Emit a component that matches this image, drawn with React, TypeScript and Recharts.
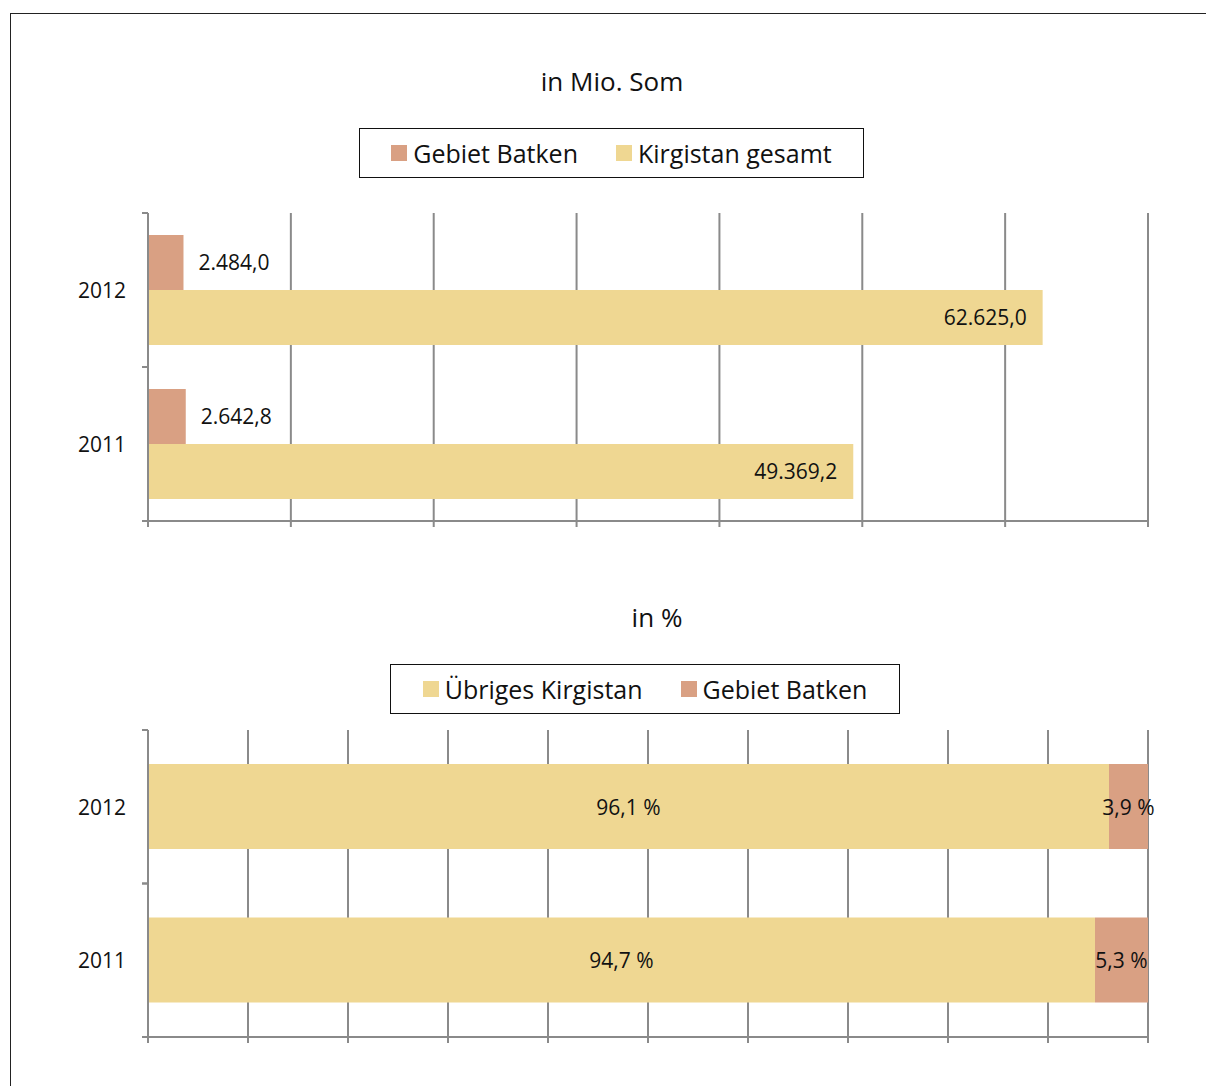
import React from "react";
import { BarChart, Bar, XAxis, YAxis, CartesianGrid, LabelList } from "recharts";

const years = ["2012", "2011"];
const batkenMio = [2484.0, 2642.8];
const kirgistanMio = [62625.0, 49369.2];
const uebrigesPct = [96.1, 94.7];
const batkenPct = [3.9, 5.3];
const mioTicks = [0, 10000, 20000, 30000, 40000, 50000, 60000, 70000];
const pctTicks = [0, 10, 20, 30, 40, 50, 60, 70, 80, 90, 100];

const SALMON = "#d9a083";
const YELLOW = "#efd792";
const GRID = "#8a8a8a";
const FONT = "'Open Sans', sans-serif";

const mioData = years.map((year, i) => ({
  year,
  batken: batkenMio[i],
  kirgistan: kirgistanMio[i],
}));

const pctData = years.map((year, i) => ({
  year,
  uebriges: uebrigesPct[i],
  batken: batkenPct[i],
}));

const fmtDe = (v: number) =>
  v.toLocaleString("de-DE", { minimumFractionDigits: 1, maximumFractionDigits: 1 });
const fmtPct = (v: number) => `${v.toFixed(1).replace(".", ",")} %`;

function YearTick(props: any) {
  const { x, y, payload } = props;
  const half = payload?.offset ?? 77;
  return (
    <g>
      <text
        x={x - 22}
        y={y}
        textAnchor="end"
        dominantBaseline="central"
        fontSize={21}
        fontFamily={FONT}
        fill="#111"
      >
        {payload.value}
      </text>
      <line x1={x - 6} x2={x} y1={y - half} y2={y - half} stroke={GRID} strokeWidth={2} />
      <line x1={x - 6} x2={x} y1={y + half} y2={y + half} stroke={GRID} strokeWidth={2} />
    </g>
  );
}

// centred label that never wraps, even when the segment is narrow
function PctLabel(props: any) {
  const { x, y, width, height, value } = props;
  return (
    <text
      x={Number(x) + Number(width) / 2}
      y={Number(y) + Number(height) / 2}
      textAnchor="middle"
      dominantBaseline="central"
      fontSize={21}
      fontFamily={FONT}
      fill="#111"
    >
      {fmtPct(Number(value))}
    </text>
  );
}

function LegendBox({ items, style }: { items: { name: string; color: string }[]; style: React.CSSProperties }) {
  return (
    <div
      style={{
        position: "absolute",
        boxSizing: "border-box",
        border: "1.5px solid #111",
        display: "flex",
        alignItems: "center",
        justifyContent: "center",
        gap: 38,
        fontFamily: FONT,
        fontSize: 25,
        color: "#111",
        ...style,
      }}
    >
      {items.map((it) => (
        <div key={it.name} style={{ display: "flex", alignItems: "center" }}>
          <span style={{ width: 16, height: 16, background: it.color, marginRight: 6, display: "inline-block" }} />
          {it.name}
        </div>
      ))}
    </div>
  );
}

const titleStyle: React.CSSProperties = {
  position: "absolute",
  fontFamily: FONT,
  fontSize: 26,
  color: "#111",
  transform: "translateX(-50%)",
  whiteSpace: "nowrap",
};

export default function App() {
  return (
    <div
      style={{
        position: "absolute",
        left: 0,
        top: 0,
        width: 1206,
        height: 1086,
        overflow: "hidden",
        background: "#fff",
      }}
    >
      <div
        style={{
          position: "absolute",
          left: 10,
          top: 13,
          width: 1400,
          height: 1300,
          border: "1.5px solid #222",
        }}
      />

      <div style={{ ...titleStyle, left: 612, top: 63 }}>in Mio. Som</div>
      <LegendBox
        style={{ left: 359, top: 128, width: 505, height: 50 }}
        items={[
          { name: "Gebiet Batken", color: SALMON },
          { name: "Kirgistan gesamt", color: YELLOW },
        ]}
      />

      <div style={{ position: "absolute", left: 0, top: 200 }}>
        <BarChart
          width={1206}
          height={350}
          data={mioData}
          layout="vertical"
          margin={{ top: 13, right: 58, bottom: 9, left: 88 }}
          barGap={0}
        >
          <CartesianGrid horizontal={false} stroke={GRID} strokeWidth={2} />
          <XAxis
            type="number"
            domain={[0, 70000]}
            ticks={mioTicks}
            tickFormatter={() => ""}
            tickSize={6}
            height={20}
            stroke={GRID}
            strokeWidth={2}
          />
          <YAxis
            type="category"
            dataKey="year"
            width={60}
            tickSize={0}
            tickMargin={0}
            tickLine={false}
            tick={<YearTick />}
            stroke={GRID}
            strokeWidth={2}
          />
          <Bar dataKey="batken" fill={SALMON} barSize={55} isAnimationActive={false}>
            <LabelList
              dataKey="batken"
              position="right"
              offset={15}
              formatter={(v: any) => fmtDe(Number(v))}
              style={{ fontSize: 21, fontFamily: FONT, fill: "#111" }}
            />
          </Bar>
          <Bar dataKey="kirgistan" fill={YELLOW} barSize={55} isAnimationActive={false}>
            <LabelList
              dataKey="kirgistan"
              position="insideRight"
              offset={16}
              formatter={(v: any) => fmtDe(Number(v))}
              style={{ fontSize: 21, fontFamily: FONT, fill: "#111" }}
            />
          </Bar>
        </BarChart>
      </div>

      <div style={{ ...titleStyle, left: 657, top: 599 }}>in %</div>
      <LegendBox
        style={{ left: 390, top: 664, width: 510, height: 50 }}
        items={[
          { name: "Übriges Kirgistan", color: YELLOW },
          { name: "Gebiet Batken", color: SALMON },
        ]}
      />

      <div style={{ position: "absolute", left: 0, top: 717 }}>
        <BarChart
          width={1206}
          height={350}
          data={pctData}
          layout="vertical"
          margin={{ top: 13, right: 58, bottom: 10, left: 88 }}
        >
          <CartesianGrid horizontal={false} stroke={GRID} strokeWidth={2} />
          <XAxis
            type="number"
            domain={[0, 100]}
            ticks={pctTicks}
            tickFormatter={() => ""}
            tickSize={6}
            height={20}
            stroke={GRID}
            strokeWidth={2}
          />
          <YAxis
            type="category"
            dataKey="year"
            width={60}
            tickSize={0}
            tickMargin={0}
            tickLine={false}
            tick={<YearTick />}
            stroke={GRID}
            strokeWidth={2}
          />
          <Bar dataKey="uebriges" stackId="a" fill={YELLOW} barSize={85} isAnimationActive={false}>
            <LabelList dataKey="uebriges" content={<PctLabel />} />
          </Bar>
          <Bar dataKey="batken" stackId="a" fill={SALMON} barSize={85} isAnimationActive={false}>
            <LabelList dataKey="batken" content={<PctLabel />} />
          </Bar>
        </BarChart>
      </div>
    </div>
  );
}
